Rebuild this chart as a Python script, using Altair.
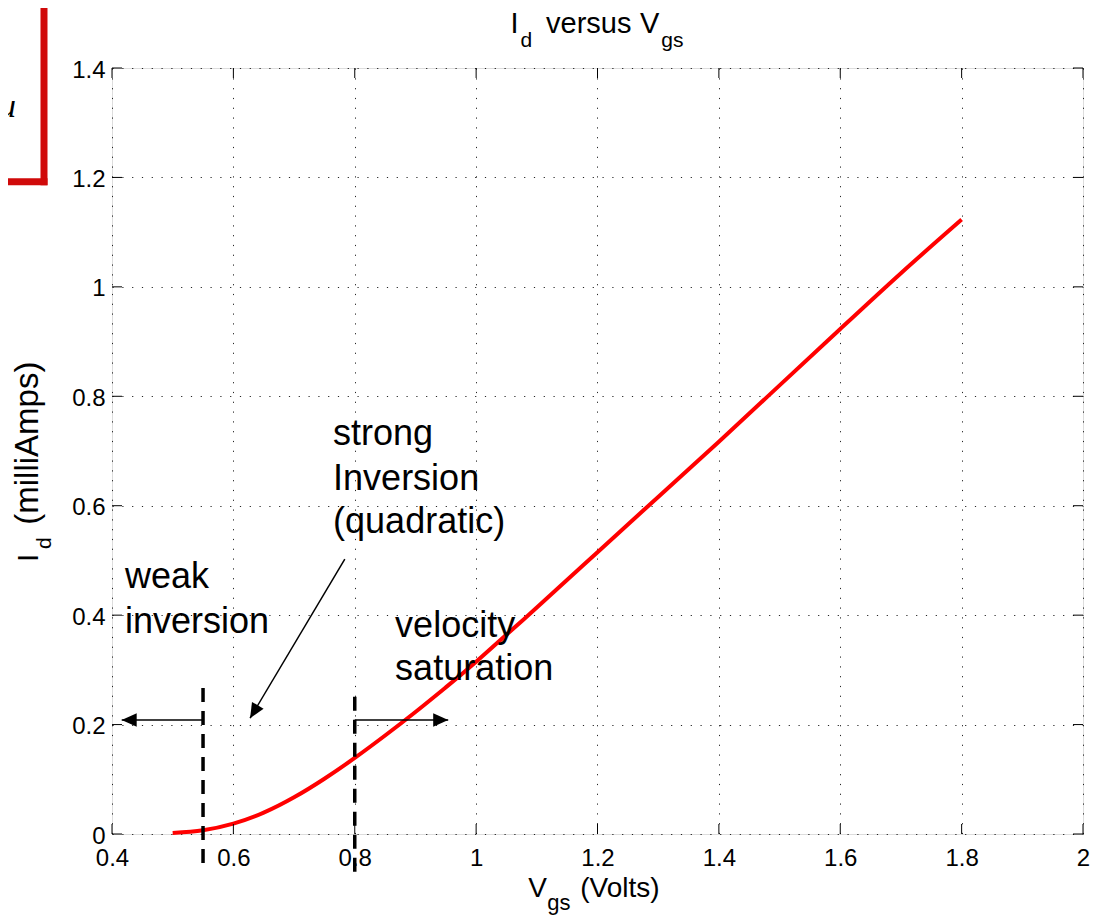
import altair as alt
import pandas as pd

# ---------------- data ----------------
vgs = [0.50, 0.55, 0.60, 0.65, 0.70, 0.75, 0.80, 0.85, 0.90, 0.95, 1.00,
       1.10, 1.20, 1.30, 1.40, 1.50, 1.60, 1.70, 1.80]
id_ma = [0.002, 0.007, 0.019, 0.039, 0.067, 0.101, 0.139, 0.180, 0.223, 0.268, 0.315,
         0.414, 0.515, 0.616, 0.717, 0.820, 0.923, 1.025, 1.123]

x_ticks = [0.4, 0.6, 0.8, 1.0, 1.2, 1.4, 1.6, 1.8, 2.0]
y_ticks = [0.0, 0.2, 0.4, 0.6, 0.8, 1.0, 1.2, 1.4]

# region boundaries (dashed lines)
bound_x = [0.55, 0.80]
bound_top = [0.267, 0.251]
bound_bot = [-0.069, -0.084]

# arrows: start -> tip
arrow_x0 = [0.55, 0.80, 0.7836]
arrow_y0 = [0.2085, 0.2085, 0.5024]
arrow_x1 = [0.416, 0.954, 0.6275]
arrow_y1 = [0.2085, 0.2085, 0.2116]
arrow_angle = [180, 0, 121.0]

# annotation text lines
ann_text = ["weak", "inversion", "strong", "Inversion", "(quadratic)", "velocity", "saturation"]
ann_x = [0.4214, 0.4214, 0.7643, 0.7643, 0.7643, 0.8665, 0.8665]
ann_y = [0.450, 0.3676, 0.7114, 0.629, 0.5505, 0.360, 0.2816]

# ---------------- layout ----------------
W, H = 971, 766
FONT = "Liberation Sans"

x_sc = alt.Scale(domain=[0.4, 2.0], nice=False, zero=False)
y_sc = alt.Scale(domain=[0.0, 1.4], nice=False, zero=False)

grid_dash = [1.2, 8.6]
xa = alt.Axis(values=x_ticks, format="~g", tickSize=0, domain=False, grid=True,
              gridDash=grid_dash, gridColor="#000000", gridWidth=1, gridOpacity=0.85,
              labelFont=FONT, labelFontSize=24, labelColor="black", labelPadding=12,
              labelFlush=False, labelOverlap=False, title=None)
ya = alt.Axis(values=y_ticks, format="~g", tickSize=0, domain=False, grid=True,
              gridDash=grid_dash, gridColor="#000000", gridWidth=1, gridOpacity=0.85,
              labelFont=FONT, labelFontSize=24, labelColor="black", labelPadding=7,
              labelOffset=2, labelFlush=False, labelOverlap=False, title=None)

curve_df = pd.DataFrame({"vgs": vgs, "id": id_ma})
curve = alt.Chart(curve_df).mark_line(color="#ff0000", strokeWidth=4, interpolate="natural").encode(
    x=alt.X("vgs:Q", scale=x_sc, axis=xa),
    y=alt.Y("id:Q", scale=y_sc, axis=ya),
)

# inward ticks on all four sides
xt = pd.DataFrame({"t": x_ticks})
yt = pd.DataFrame({"t": y_ticks})
tick_style = dict(color="black", strokeWidth=1)
ticks_bottom = alt.Chart(xt).mark_rule(**tick_style).encode(
    x=alt.X("t:Q", scale=x_sc, axis=xa), y=alt.value(H), y2=alt.value(H - 10))
ticks_top = alt.Chart(xt).mark_rule(**tick_style).encode(
    x=alt.X("t:Q", scale=x_sc, axis=xa), y=alt.value(0), y2=alt.value(10))
ticks_left = alt.Chart(yt).mark_rule(**tick_style).encode(
    y=alt.Y("t:Q", scale=y_sc, axis=ya), x=alt.value(0), x2=alt.value(10))
ticks_right = alt.Chart(yt).mark_rule(**tick_style).encode(
    y=alt.Y("t:Q", scale=y_sc, axis=ya), x=alt.value(W), x2=alt.value(W - 10))

# dashed boundaries
bdf = pd.DataFrame({"x": bound_x, "y": bound_top, "y2": bound_bot})
bounds = alt.Chart(bdf).mark_rule(color="black", strokeWidth=3.5, strokeDash=[14, 9]).encode(
    x=alt.X("x:Q", scale=x_sc, axis=xa),
    y=alt.Y("y:Q", scale=y_sc, axis=ya),
    y2="y2:Q",
)

# arrows
adf = pd.DataFrame({"x0": arrow_x0, "y0": arrow_y0, "x1": arrow_x1, "y1": arrow_y1, "ang": arrow_angle})
shafts = alt.Chart(adf).mark_rule(color="black", strokeWidth=1.5).encode(
    x=alt.X("x0:Q", scale=x_sc, axis=xa),
    y=alt.Y("y0:Q", scale=y_sc, axis=ya),
    x2="x1:Q",
    y2="y1:Q",
)
heads = alt.Chart(adf).mark_point(shape="M0,0L-2,-0.9L-2,0.9Z", filled=True, size=225,
                                  color="black", opacity=1, strokeWidth=0).encode(
    x=alt.X("x1:Q", scale=x_sc, axis=xa),
    y=alt.Y("y1:Q", scale=y_sc, axis=ya),
    angle=alt.Angle("ang:Q", scale=None),
)

# annotations
ndf = pd.DataFrame({"x": ann_x, "y": ann_y, "t": ann_text})
notes = alt.Chart(ndf).mark_text(font=FONT, fontSize=36, align="left", baseline="alphabetic",
                                 color="black").encode(
    x=alt.X("x:Q", scale=x_sc, axis=xa),
    y=alt.Y("y:Q", scale=y_sc, axis=ya),
    text="t:N",
)


def label(txt, px, py, size, angle=0, font=FONT, style="normal"):
    return alt.Chart(pd.DataFrame({"t": [txt]})).mark_text(
        font=font, fontSize=size, align="left", baseline="alphabetic", color="black",
        angle=angle, fontStyle=style,
    ).encode(x=alt.value(px), y=alt.value(py), text="t:N")


texts = [
    # title: I_d versus V_gs
    label("I", 398.5, -35, 29),
    label("d", 408.5, -21.5, 21),
    label("versus", 434, -35, 29),
    label("V", 528, -35, 29),
    label("gs", 549.3, -21.5, 21),
    # x title: V_gs (Volts)
    label("V", 416.3, 829, 28),
    label("gs", 435.3, 842, 22),
    label("(Volts)", 468.3, 829, 28),
    # y title: I_d (milliAmps)
    label("I", -74, 494, 30, angle=270),
    label("d", -61, 481, 21, angle=270),
    label("(milliAmps)", -74, 456.7, 33, angle=270),
    # cropped glyph in the red box
    label("u", -113, 49, 34, font="Liberation Serif", style="italic"),
]

# red box fragment at top-left (outside the plot)
red_v = alt.Chart(pd.DataFrame({"k": [0]})).mark_rule(color="#d00a0a", strokeWidth=7).encode(
    x=alt.value(-68), y=alt.value(-64), y2=alt.value(117.2))
red_h = alt.Chart(pd.DataFrame({"k": [0]})).mark_rule(color="#d00a0a", strokeWidth=7).encode(
    x=alt.value(-110), x2=alt.value(-64.5), y=alt.value(113.7))

chart = alt.layer(
    curve, bounds, shafts, heads, notes,
    ticks_bottom, ticks_top, ticks_left, ticks_right,
    red_v, red_h, *texts,
).properties(
    width=W, height=H,
    autosize=alt.AutoSizeParams(type="none"),
    padding={"left": 104, "top": 60, "right": 12, "bottom": 84},
).configure_view(
    stroke="black", strokeWidth=1.5
).configure(background="white")

chart.save("out.html", embed_options={"renderer": "svg", "actions": False})
